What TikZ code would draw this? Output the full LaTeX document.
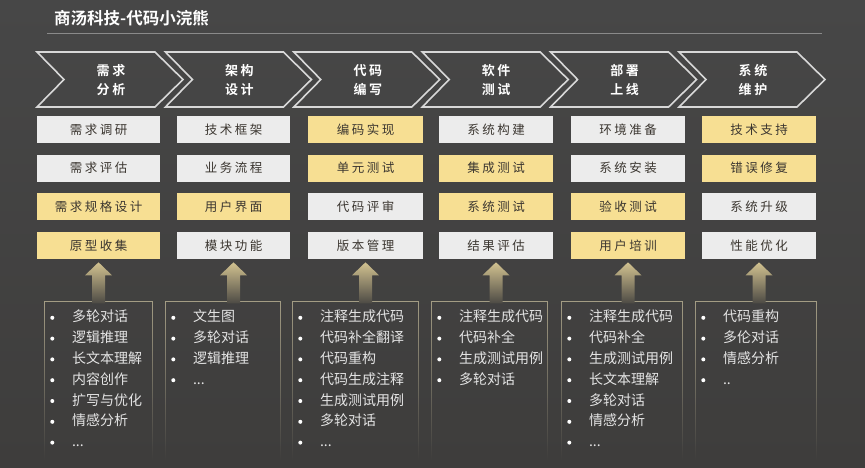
\documentclass[tikz,border=0pt]{standalone}
\usepackage{fontspec}
\newfontfamily\cjk{Noto Sans CJK SC}[BoldFont={Noto Sans CJK SC Bold}]
\newfontfamily\cjkwide{Noto Sans CJK SC}[LetterSpace=20,BoldFont={Noto Sans CJK SC Bold}]
\usetikzlibrary{calc,fadings}

\definecolor{bgtop}{HTML}{474747}
\definecolor{bgbot}{HTML}{3E3D3C}
\definecolor{chevline}{HTML}{D8D8D8}
\definecolor{lightbox}{HTML}{ECECEC}
\definecolor{goldbox}{HTML}{F7DF93}
\definecolor{boxtext}{HTML}{3B3630}
\definecolor{itemtext}{HTML}{E4E4E4}
\definecolor{listline}{HTML}{A39C84}
\definecolor{arrowtop}{HTML}{D2C290}
\definecolor{rulegray}{HTML}{8A8A8A}

\newcommand\twodots{.\kern0pt.}
\newcommand\threedots{.\kern0pt.\kern0pt.}

\tikzfading[name=fadedown, top color=transparent!0, middle color=transparent!10, bottom color=transparent!100]

\tikzset{
  chev/.style={draw=chevline, line width=1.6pt, line join=miter},
  stage/.style={align=center, text=white, inner sep=0pt, font=\cjkwide\bfseries\fontsize{13}{19}\selectfont},
  box/.style={minimum height=27pt, inner sep=0pt, text=boxtext, font=\cjkwide\fontsize{12.5}{14}\selectfont},
  boxw/.style={fill=lightbox},
  boxy/.style={fill=goldbox},
  listbox/.style={minimum height=158pt, inner sep=0pt},
  listedge/.style={draw=listline, line width=1.1pt, path fading=fadedown},
  item/.style={anchor=west, inner sep=0pt, text height=11pt, text depth=3pt, text=itemtext, font=\cjk\fontsize{14}{16}\selectfont},
  uparrow/.style={top color=arrowtop, bottom color=arrowtop!10!bgbot},
}

\begin{document}
\begin{tikzpicture}[x=1pt,y=-1pt]
  \useasboundingbox (0,0) rectangle (865,467);
  \shade[top color=bgtop, bottom color=bgbot] (0,0) rectangle (865,467);

  % title
  \node[anchor=west, inner sep=0pt, text=white, font=\cjk\bfseries\fontsize{16.5}{18}\selectfont] (title) at (54,18) {商汤科技-代码小浣熊};
  \draw[rulegray, line width=1.2pt] (47,33.5) -- (822,33.5);

  % stages
  \foreach \up/\dn [count=\i from 0] in {需求/分析,架构/设计,代码/编写,软件/测试,部署/上线,系统/维护} {
    \draw[chev] ({37+128.4*\i},52) -- ++(118,0) -- ++(28,27.5) -- ++(-28,27.5) -- ++(-118,0) -- ++(27,-27.5) -- cycle;
    \node[stage] (s\i) at ({111+128.4*\i},80) {\up\\\dn};
  }

  % boxes, lists and arrows
  \foreach \bx/\bw/\lx/\lw/\boxes/\items [count=\col] in {
    98.5/123/98.5/107/{需求调研/w,需求评估/w,需求规格设计/y,原型收集/y}/{多轮对话,逻辑推理,长文本理解,内容创作,扩写与优化,情感分析,\threedots},
    233.5/113/223/114/{技术框架/w,业务流程/w,用户界面/y,模块功能/w}/{文生图,多轮对话,逻辑推理,\threedots},
    365.5/115/355.5/125/{编码实现/y,单元测试/y,代码评审/w,版本管理/w}/{注释生成代码,代码补全翻译,代码重构,代码生成注释,生成测试用例,多轮对话,\threedots},
    496/114/489.5/115/{系统构建/w,集成测试/y,系统测试/y,结果评估/w}/{注释生成代码,代码补全,生成测试用例,多轮对话},
    628/114/622/120/{环境准备/w,系统安装/w,验收测试/y,用户培训/y}/{注释生成代码,代码补全,生成测试用例,长文本理解,多轮对话,情感分析,\threedots},
    759/114/756/120/{技术支持/y,错误修复/y,系统升级/w,性能优化/w}/{代码重构,多伦对话,情感分析,\twodots}} {
    \foreach \txt/\key [count=\row] in \boxes
      \node[box, box\key, minimum width=\bw] (b\col-\row) at (\bx, {129.5+38.7*(\row-1)}) {\txt};
    \node[listbox, minimum width=\lw] (l\col) at (\lx, 381) {};
    \draw[listedge] (l\col.south west) -- (l\col.north west) -- (l\col.north east) -- (l\col.south east);
    \foreach \itm [count=\n] in \items {
      \fill[white] ($(l\col.north west)+(7.5,{16+20.8*(\n-1)})$) circle (2);
      \node[item] (l\col-\n) at ($(l\col.north west)+(27,{16+20.8*(\n-1)})$) {\itm};
    }
    \shade[uparrow] ($(b\col-4.south)+(0,3)$) -- ++(13.5,13) -- ++(-7,0) -- ++(0,28) -- ++(-13,0) -- ++(0,-28) -- ++(-7,0) -- cycle;
  }
\end{tikzpicture}
\end{document}
